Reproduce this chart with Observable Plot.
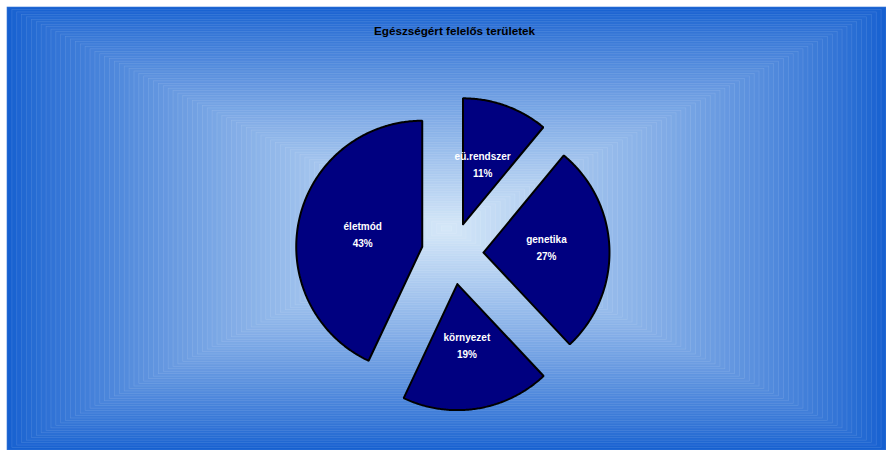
<!DOCTYPE html>
<html>
<head>
<meta charset="utf-8">
<script src="https://cdn.jsdelivr.net/npm/d3@7"></script>
<script src="https://cdn.jsdelivr.net/npm/@observablehq/plot@0.6"></script>
<style>
  html, body { margin: 0; padding: 0; background: #ffffff; }
  #chart svg { display: block; font-family: "Liberation Sans", Arial, sans-serif; }
</style>
</head>
<body>
<div id="chart"></div>
<script>
// ---- data ----
const title = "Egészségért felelős területek";
const categories = ["eü.rendszer", "genetika", "környezet", "életmód"];
const shares = [11, 27, 19, 43];

// ---- layout (pixels) ----
const W = 886, H = 450;
const cx = 452, cy = 253;      // pie centre
const R = 126;                 // radius
const explode = 31;            // offset of each slice
const labelDist = 61;          // label distance from slice apex
const labelNudge = {"eü.rendszer": [-1, -4], "genetika": [2, -5]}; // fine placement tweaks

const pie = d3.pie().sort(null).value(d => d.value)
  (categories.map((c, i) => ({name: c, value: shares[i]})));

const slicePts = [];
const labels = [];
pie.forEach(p => {
  const mid = (p.startAngle + p.endAngle) / 2;
  const ax = cx + explode * Math.sin(mid);
  const ay = cy - explode * Math.cos(mid);
  const pts = [[ax, ay]];
  const n = Math.max(8, Math.ceil((p.endAngle - p.startAngle) / 0.01));
  for (let k = 0; k <= n; k++) {
    const a = p.startAngle + (p.endAngle - p.startAngle) * k / n;
    pts.push([ax + R * Math.sin(a), ay - R * Math.cos(a)]);
  }
  pts.push([ax, ay]);
  pts.forEach(([x, y]) => slicePts.push({name: p.data.name, x, y}));
  const nudge = labelNudge[p.data.name] || [0, 0];
  labels.push({
    x: ax + labelDist * Math.sin(mid) + nudge[0],
    y: ay - labelDist * Math.cos(mid) + nudge[1],
    text: p.data.name + "\n" + p.data.value + "%"
  });
});

// ---- decorative rectangular gradient background ----
const bx0 = 7, bx1 = 886, by0 = 7, by1 = 450;
const bcx = (bx0 + bx1) / 2, bcy = (by0 + by1) / 2;
const steps = 90;
const edgeCol = d3.rgb(22, 96, 208), centerCol = d3.rgb(214, 232, 248);
const col = d3.interpolateRgb(edgeCol, centerCol);
const bg = d3.range(steps).map(i => {
  const t = i / steps;
  const c = col(Math.pow(t, 0.85));
  return {x1: bcx - (bx1 - bx0) / 2 * (1 - t), x2: bcx + (bx1 - bx0) / 2 * (1 - t),
          y1: bcy - (by1 - by0) / 2 * (1 - t), y2: bcy + (by1 - by0) / 2 * (1 - t),
          fill: c, stroke: d3.interpolateRgb(c, "#ffffff")(0.15)};
});

const chart = Plot.plot({
  width: W, height: H,
  margin: 0,
  x: {domain: [0, W], range: [0, W], axis: null},
  y: {domain: [0, H], range: [0, H], axis: null},
  style: {background: "transparent", fontFamily: "Liberation Sans, Arial, sans-serif"},
  marks: [
    Plot.rect(bg, {x1: "x1", x2: "x2", y1: "y1", y2: "y2", fill: d => d.fill, stroke: d => d.stroke, strokeWidth: 0.6}),
    Plot.line(slicePts, {x: "x", y: "y", z: "name", fill: "#000080", stroke: "#000000",
      strokeWidth: 2, strokeLinejoin: "miter", curve: "linear"}),
    Plot.text(labels, {x: "x", y: "y", text: "text", fill: "#ffffff", fontSize: 10,
      fontWeight: "bold", lineHeight: 1.7, textAnchor: "middle"}),
    Plot.text([title], {x: () => 454, y: () => 31, text: d => d, fill: "#000000",
      fontSize: 11.7, fontWeight: "bold", textAnchor: "middle"})
  ]
});
document.getElementById("chart").appendChild(chart);
</script>
</body>
</html>
